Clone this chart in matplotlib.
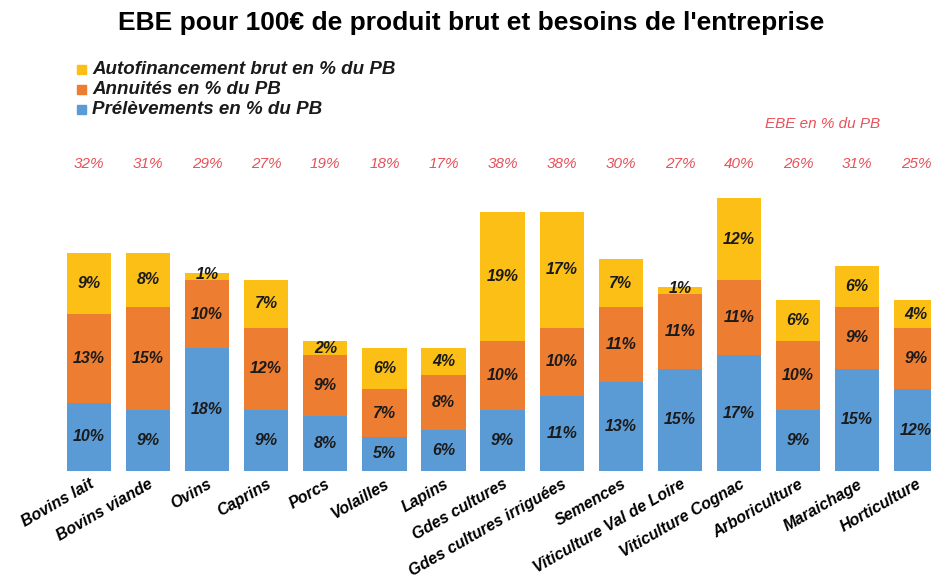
import matplotlib.pyplot as plt
import numpy as np

plt.rcParams['font.family'] = ['Liberation Sans', 'DejaVu Sans']

categories = ['Bovins lait', 'Bovins viande', 'Ovins', 'Caprins', 'Porcs', 'Volailles',
              'Lapins', 'Gdes cultures', 'Gdes cultures irriguées', 'Semences',
              'Viticulture Val de Loire', 'Viticulture Cognac', 'Arboriculture',
              'Maraichage', 'Horticulture']
prelevements = [10, 9, 18, 9, 8, 5, 6, 9, 11, 13, 15, 17, 9, 15, 12]
annuites = [13, 15, 10, 12, 9, 7, 8, 10, 10, 11, 11, 11, 10, 9, 9]
autofinancement = [9, 8, 1, 7, 2, 6, 4, 19, 17, 7, 1, 12, 6, 6, 4]
ebe = [32, 31, 29, 27, 19, 18, 17, 38, 38, 30, 27, 40, 26, 31, 25]

c_blue = '#5B9BD5'
c_orange = '#ED7D31'
c_yellow = '#FBBF16'
c_red = '#E8515A'

fig = plt.figure(figsize=(9.31, 5.82), dpi=100)
ax = fig.add_axes([60 / 931, 111 / 582, 871 / 931, 290 / 582])

x = np.arange(len(categories))
p = np.array(prelevements)
a = np.array(annuites)
f = np.array(autofinancement)
w = 0.75
ax.bar(x, p, w, color=c_blue)
ax.bar(x, a, w, bottom=p, color=c_orange)
ax.bar(x, f, w, bottom=p + a, color=c_yellow)

lab = dict(fontsize=11.5, fontweight='bold', fontstyle='italic', ha='center', va='center', color='#1a1a1a')
for i in x:
    ax.text(i, p[i] / 2, f'{p[i]}%', **lab)
    ax.text(i, p[i] + a[i] / 2, f'{a[i]}%', **lab)
    ax.text(i, p[i] + a[i] + max(f[i], 1.6) / 2, f'{f[i]}%', **lab)
    ax.text(i, 45.0, f'{ebe[i]}%', color=c_red, fontsize=11, fontstyle='italic',
            ha='center', va='center', clip_on=False)

ax.set_xlim(-0.49, 14.25)
ax.set_ylim(0, 42.5)
ax.set_xticks(x)
ax.set_xticklabels(categories, rotation=30, ha='right', rotation_mode='anchor',
                   fontsize=11.5, fontweight='bold', fontstyle='italic')
ax.tick_params(length=0, pad=4)
ax.set_yticks([])
for s in ax.spines.values():
    s.set_visible(False)

fig.text(471 / 931, 1 - 23 / 582, "EBE pour 100€ de produit brut et besoins de l'entreprise",
         ha='center', va='center', fontsize=19, fontweight='bold')

leg = [('Autofinancement brut en % du PB', c_yellow, 70),
       ('Annuités en % du PB', c_orange, 90),
       ('Prélèvements en % du PB', c_blue, 110)]
for txt, col, yy in leg:
    fig.patches.append(plt.Rectangle((77 / 931, 1 - (yy + 4) / 582), 9 / 931, 9 / 582,
                                     transform=fig.transFigure, color=col))
    fig.text(92 / 931, 1 - yy / 582, txt, ha='left', va='center', fontsize=13.5,
             fontweight='bold', fontstyle='italic', color='#1a1a1a')

fig.text(823 / 931, 1 - 124 / 582, 'EBE en % du PB', ha='center', va='center',
         fontsize=11, fontstyle='italic', color=c_red)

plt.savefig('out.png')
